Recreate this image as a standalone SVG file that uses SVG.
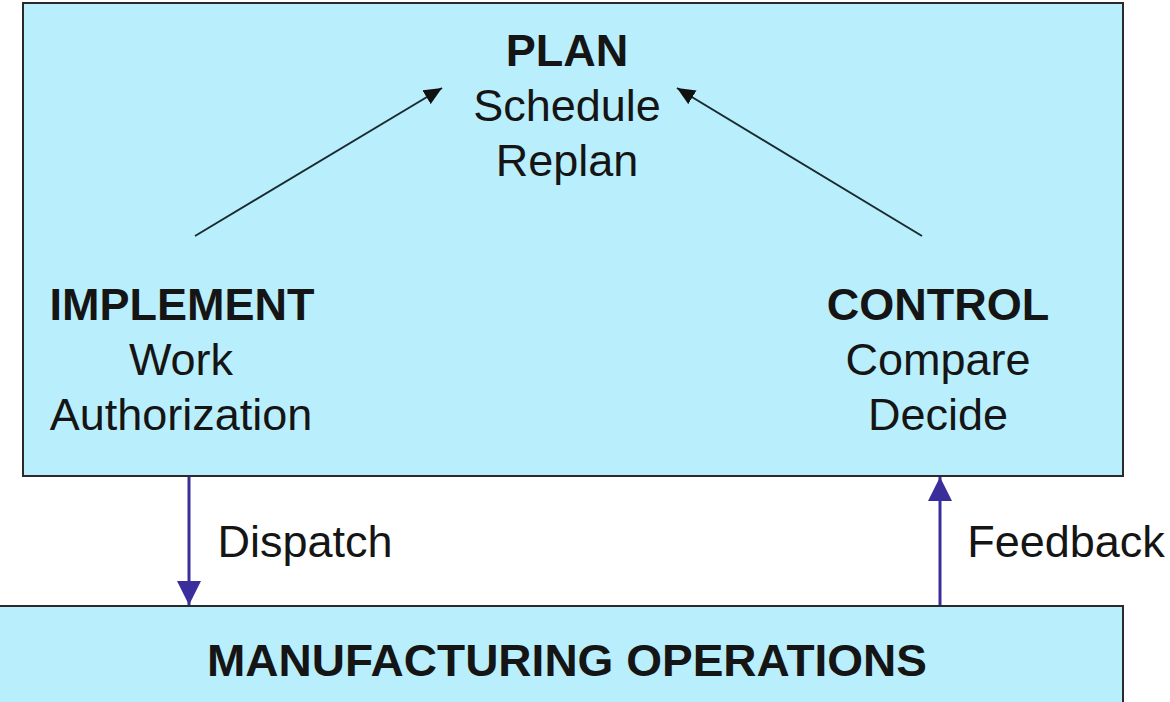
<svg xmlns="http://www.w3.org/2000/svg" width="1170" height="702" viewBox="0 0 1170 702">
<style>
.box{fill:#B9EFFC;stroke:#2a2a2a;stroke-width:2}
text{font-family:"Liberation Sans",Arial,sans-serif;font-size:45px;fill:#151515;text-anchor:middle}
.b{font-weight:bold}
.blue{stroke:#3A2E9C;stroke-width:3;fill:none}
.blk{stroke:#1a2a30;stroke-width:2;fill:none}
</style>
<defs>
<marker id="ab" markerUnits="userSpaceOnUse" markerWidth="26" markerHeight="26" refX="24" refY="12" orient="auto" viewBox="0 0 26 26">
<path d="M0,0 L24,12 L0,24 z" fill="#3A2E9C"/>
</marker>
<marker id="ak" markerUnits="userSpaceOnUse" markerWidth="20" markerHeight="16" refX="18" refY="8" orient="auto" viewBox="0 0 20 16">
<path d="M0,0 L18,8 L0,16 z" fill="#111"/>
</marker>
</defs>
<rect width="1170" height="702" fill="#ffffff"/>
<g id="top-box">
<rect class="box" x="23" y="3" width="1100" height="473"/>
</g>
<g id="plan">
<text class="b" x="567" y="66">PLAN</text>
<text x="567" y="121">Schedule</text>
<text x="567" y="176">Replan</text>
</g>
<g id="implement">
<text class="b" x="182" y="320">IMPLEMENT</text>
<text x="181" y="375">Work</text>
<text x="181" y="430">Authorization</text>
</g>
<g id="control">
<text class="b" x="938" y="320">CONTROL</text>
<text x="938" y="375">Compare</text>
<text x="938" y="430">Decide</text>
</g>
<g id="manufacturing">
<rect class="box" x="-3" y="606" width="1126" height="110"/>
<text class="b" x="567" y="676" textLength="720" lengthAdjust="spacingAndGlyphs">MANUFACTURING OPERATIONS</text>
</g>
<g id="connectors">
<line class="blk" x1="195" y1="236" x2="442" y2="88" marker-end="url(#ak)"/>
<line class="blk" x1="922" y1="236" x2="677" y2="88" marker-end="url(#ak)"/>
<line class="blue" x1="189" y1="477" x2="189" y2="605" marker-end="url(#ab)"/>
<line class="blue" x1="940" y1="605" x2="940" y2="477" marker-end="url(#ab)"/>
<text x="305" y="557">Dispatch</text>
<text x="1066" y="557">Feedback</text>
</g>
</svg>
